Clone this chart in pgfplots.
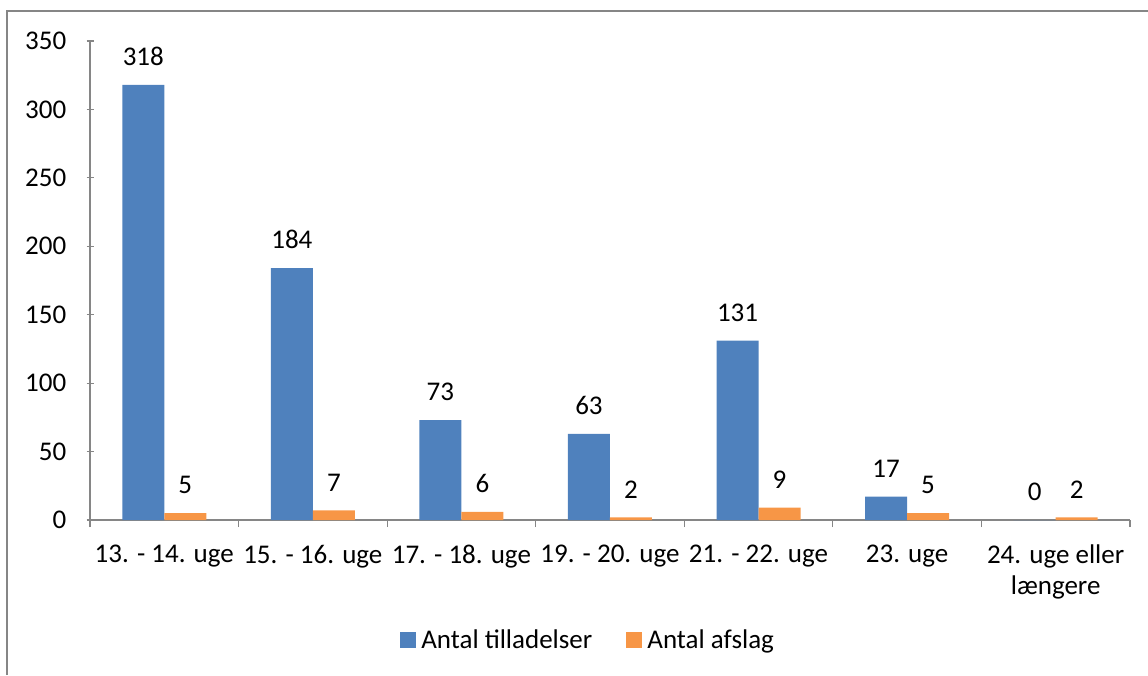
\documentclass[border=0pt]{standalone}
\usepackage{fontspec}
\setmainfont{Carlito}
\usepackage{pgfplots}
\pgfplotsset{compat=1.18}
\definecolor{cblue}{HTML}{4F81BD}
\definecolor{corange}{HTML}{F79646}
\definecolor{axgray}{HTML}{868686}
\begin{document}
\fontsize{27}{32}\selectfont
\begin{tikzpicture}[x=1pt,y=1pt]
\path[use as bounding box] (0,0) rectangle (1148,675);
\draw[axgray, line width=2pt] (7,0) -- (7,664) -- (1148,664);
\begin{axis}[
  at={(90pt,155pt)}, anchor=south west,
  scale only axis, width=1040pt, height=479pt,
  xmin=-0.5, xmax=6.5, ymin=0, ymax=350,
  ytick={0,50,...,350},
  xtick={0,...,6},
  xticklabels={13. - 14. uge,15. - 16. uge,17. - 18. uge,19. - 20. uge,21. - 22. uge,23. uge,{24. uge eller\\længere}},
  minor xtick={-0.5,0.5,...,6.5},
  major x tick style={draw=none},
  minor tick length=7pt, major tick length=7pt,
  tick align=outside,
  axis x line=bottom, axis y line=left,
  axis line style={-, axgray, line width=1.2pt},
  every tick/.style={axgray, line width=1.2pt},
  tick label style={font=\fontsize{27}{31}\selectfont},
  /pgf/number format/assume math mode=true,
  xticklabel style={align=center, yshift=-9pt},
  yticklabel style={xshift=-11pt},
  ybar=0pt, bar width=42pt,
  nodes near coords,
  every node near coord/.append style={font=\fontsize{27}{32}\selectfont, anchor=south, yshift=10pt, black},
  legend columns=2,
  legend style={draw=none, at={(0.479,-0.2526)}, anchor=center, font=\fontsize{27}{32}\selectfont,
    /tikz/every even column/.append style={column sep=32pt}},
  legend image code/.code={\fill[#1] (0pt,-7pt) rectangle (16pt,9pt); \path (19pt,0pt);},
]
\addplot[fill=cblue, draw=none] coordinates {(0,318) (1,184) (2,73) (3,63) (4,131) (5,17) (6,0)};
\addplot[fill=corange, draw=none] coordinates {(0,5) (1,7) (2,6) (3,2) (4,9) (5,5) (6,2)};
\legend{Antal tilladelser, Antal afslag}
\end{axis}
\end{tikzpicture}
\end{document}
